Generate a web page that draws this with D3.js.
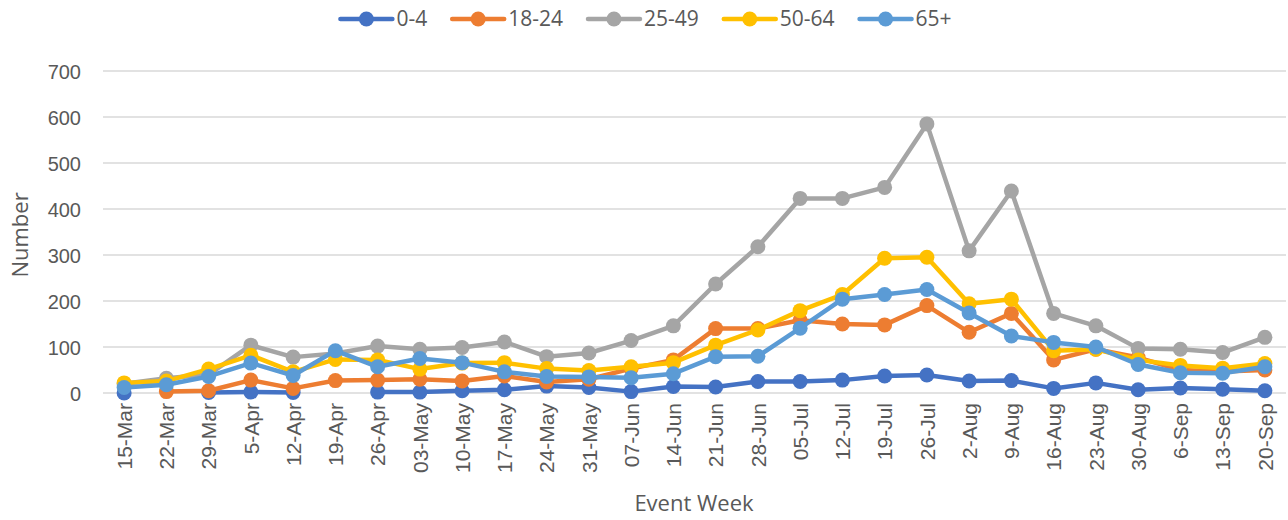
<!DOCTYPE html>
<html><head><meta charset="utf-8">
<script src="https://cdn.jsdelivr.net/npm/d3@7"></script>
<style>body{margin:0;background:#fff;}svg{display:block;font-family:"Open Sans",sans-serif;}</style>
</head><body>
<svg id="c" width="1288" height="520"></svg>
<script>
const weeks = ["15-Mar","22-Mar","29-Mar","5-Apr","12-Apr","19-Apr","26-Apr","03-May","10-May","17-May","24-May","31-May","07-Jun","14-Jun","21-Jun","28-Jun","05-Jul","12-Jul","19-Jul","26-Jul","2-Aug","9-Aug","16-Aug","23-Aug","30-Aug","6-Sep","13-Sep","20-Sep"];
const seriesNames = ["0-4","18-24","25-49","50-64","65+"];
const colors = ["#4472C4","#ED7D31","#A5A5A5","#FFC000","#5B9BD5"];
const yTicks = [0,100,200,300,400,500,600,700];
const age0_4  = [0,null,1,2,1,null,2,2,5,7,15,12,3,14,13,25,25,28,37,39,26,27,10,22,7,11,8,5];
const age18_24 = [null,3,5,28,10,27,28,30,26,37,24,30,53,72,140,140,158,150,148,190,132,173,72,95,77,50,47,50];
const age25_49 = [20,32,40,104,78,86,102,95,99,111,79,87,114,146,237,318,423,423,447,585,309,439,173,146,97,95,88,121];
const age50_64 = [22,26,52,82,46,73,72,52,65,66,53,49,57,66,104,137,179,214,293,295,194,204,92,95,72,60,54,64];
const age65p  = [12,18,36,65,38,92,57,75,66,46,36,35,33,42,79,80,141,204,214,225,174,124,110,100,62,44,43,57];
const allSeries = [age0_4, age18_24, age25_49, age50_64, age65p];

const svg = d3.select("#c");
const L = 103, R = 1286, T = 71, B = 393;
const x = d3.scalePoint().domain(weeks).range([L, R]).padding(0.5);
const y = d3.scaleLinear().domain([0,700]).range([B, T]);
const txt = "#595959";

// gridlines
svg.append("g").selectAll("line").data(yTicks).join("line")
  .attr("x1", L).attr("x2", R).attr("y1", d=>y(d)).attr("y2", d=>y(d))
  .attr("stroke", "#d9d9d9").attr("stroke-width", 1.3);

// y axis
const yAxis = svg.append("g").attr("transform", `translate(${L-22},0)`)
  .call(d3.axisLeft(y).tickValues(yTicks).tickSize(0).tickPadding(0));
yAxis.select(".domain").remove();
yAxis.selectAll("text").attr("fill", txt).style("font-size","20px").attr("dy","0.35em");

// x axis
const xAxis = svg.append("g").attr("transform", `translate(0,${B})`)
  .call(d3.axisBottom(x).tickSize(0));
xAxis.select(".domain").remove();
xAxis.selectAll("text").attr("fill", txt).style("font-size","21px")
  .attr("transform","rotate(-90)").attr("text-anchor","end")
  .attr("x", -10).attr("y", 0).attr("dy","0.35em");

// titles
svg.append("text").attr("x", 694).attr("y", 511).attr("text-anchor","middle")
  .attr("fill", txt).style("font-size","22px").text("Event Week");
svg.append("text").attr("transform","translate(28,235) rotate(-90)").attr("text-anchor","middle")
  .attr("fill", txt).style("font-size","22px").text("Number");

// series
const line = d3.line().defined(d=>d!=null).x((d,i)=>x(weeks[i])).y(d=>y(d));
allSeries.forEach((s, k) => {
  const g = svg.append("g");
  g.append("path").datum(s).attr("d", line).attr("fill","none")
    .attr("stroke", colors[k]).attr("stroke-width", 4.5).attr("stroke-linejoin","round");
  g.selectAll("circle").data(s.map((v,i)=>({v,i})).filter(d=>d.v!=null)).join("circle")
    .attr("cx", d=>x(weeks[d.i])).attr("cy", d=>y(d.v)).attr("r", 7.5).attr("fill", colors[k]);
});

// legend (centered)
const leg = svg.append("g");
const items = [];
seriesNames.forEach((n,k) => {
  const g = leg.append("g");
  g.append("line").attr("x1",0).attr("x2",52).attr("stroke",colors[k]).attr("stroke-width",4.5).attr("stroke-linecap","round");
  g.append("circle").attr("cx",26).attr("r",7.5).attr("fill",colors[k]);
  const t = g.append("text").attr("x",56).attr("dy","0.35em").attr("fill",txt).style("font-size","21px").text(n);
  items.push({g, w: 56 + t.node().getComputedTextLength()});
});
const gap = 25;
const total = d3.sum(items, d=>d.w) + gap*(items.length-1);
let cx = 646 - total/2;
items.forEach(it => { it.g.attr("transform", `translate(${cx},19)`); cx += it.w + gap; });
</script>
</body></html>
